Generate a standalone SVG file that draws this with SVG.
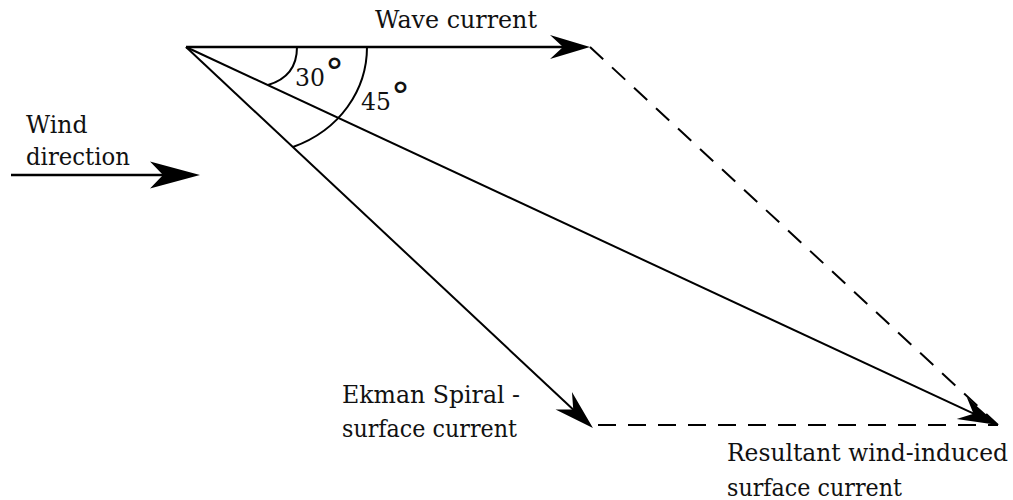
<svg xmlns="http://www.w3.org/2000/svg" width="1013" height="500" viewBox="0 0 1013 500">
<style>
  .lbl { font-family: "DejaVu Serif", "Liberation Serif", serif; font-size: 23.5px; fill: #111; }
  .ln { stroke: #000; stroke-width: 2; fill: none; }
  .thick { stroke-width: 2.6; }
  .dash { stroke: #000; stroke-width: 2; fill: none; stroke-dasharray: 18 12; }
  .deg { font-size: 38px; }
</style>
<defs>
  <marker id="ah" markerUnits="userSpaceOnUse" markerWidth="42" markerHeight="28" refX="25" refY="14" orient="auto" overflow="visible">
    <path d="M40,14 L0,2 L13,14 L0,26 Z" fill="#000"/>
  </marker>
  <marker id="ahBig" markerUnits="userSpaceOnUse" markerWidth="52" markerHeight="30" refX="35" refY="14" orient="auto" overflow="visible">
    <path d="M50,14 L0,0.5 L13,14 L0,27.5 Z" fill="#000"/>
  </marker>
</defs>

<g id="connectors">
  <line id="wave-current" class="ln thick" x1="186" y1="47" x2="575" y2="47" marker-end="url(#ah)"/>
  <line id="resultant" class="ln" x1="186" y1="47" x2="984.4" y2="418.7" marker-end="url(#ah)"/>
  <line id="ekman" class="ln" x1="186" y1="47" x2="582" y2="417.8" marker-end="url(#ah)"/>
  <line id="wind" class="ln thick" x1="11" y1="175" x2="185" y2="175" marker-end="url(#ahBig)"/>
  <line id="dash-diag" class="dash" x1="590" y1="47" x2="998" y2="425"/>
  <line id="dash-horiz" class="dash" x1="598" y1="425" x2="998" y2="425"/>
  <path id="arc30" class="ln" d="M297,47 C297,68 285,80 268,85"/>
  <path id="arc45" class="ln" d="M367,47 C367,90 340,130 293,147"/>
</g>

<g id="label-wave">
  <text class="lbl" x="375" y="28" textLength="162" lengthAdjust="spacingAndGlyphs">Wave current</text>
</g>
<g id="label-wind">
  <text class="lbl" x="26" y="133">Wind</text>
  <text class="lbl" x="26" y="165" textLength="104" lengthAdjust="spacingAndGlyphs">direction</text>
</g>
<g id="label-30">
  <text class="lbl" x="295" y="86">30<tspan class="deg" dy="-1">°</tspan></text>
</g>
<g id="label-45">
  <text class="lbl" x="361" y="110">45<tspan class="deg" dy="-1">°</tspan></text>
</g>
<g id="label-ekman">
  <text class="lbl" x="342" y="403" textLength="178" lengthAdjust="spacingAndGlyphs">Ekman Spiral -</text>
  <text class="lbl" x="342" y="437" textLength="175" lengthAdjust="spacingAndGlyphs">surface current</text>
</g>
<g id="label-resultant">
  <text class="lbl" x="727" y="461" textLength="281" lengthAdjust="spacingAndGlyphs">Resultant wind-induced</text>
  <text class="lbl" x="727" y="496" textLength="175" lengthAdjust="spacingAndGlyphs">surface current</text>
</g>
</svg>
